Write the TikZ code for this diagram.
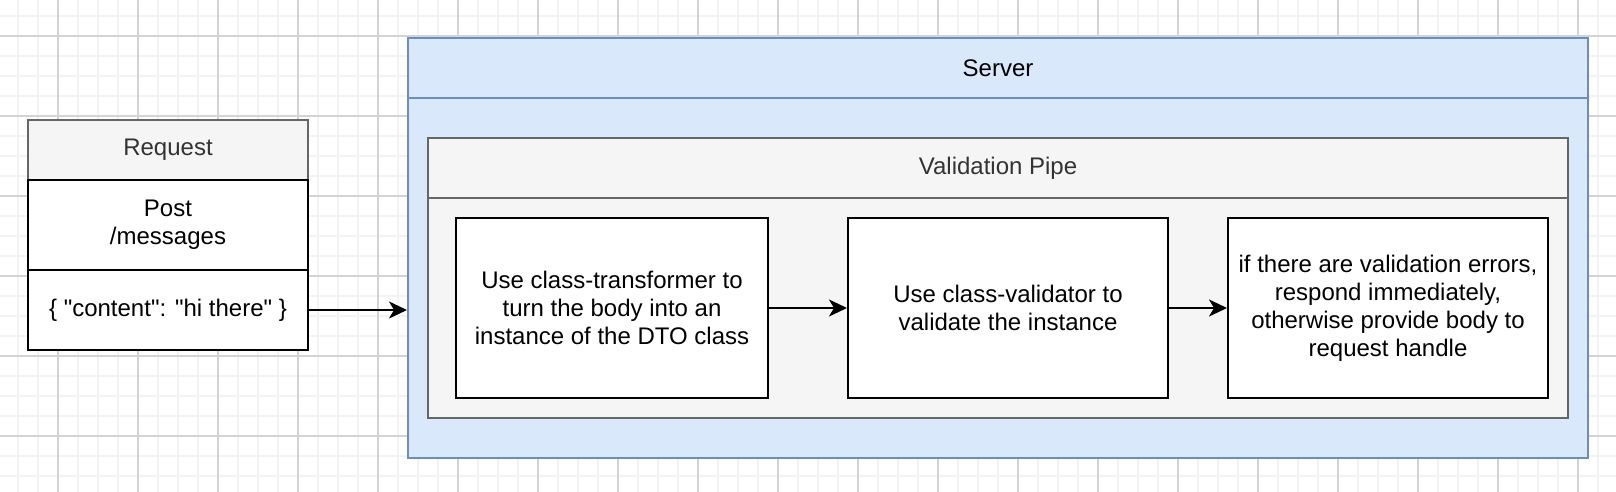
\documentclass[tikz,border=0pt]{standalone}
\usepackage{fontspec}
\setmainfont{Liberation Sans}[Ligatures=TeXOff]
\usetikzlibrary{arrows.meta}
\definecolor{gridminor}{HTML}{F3F3F3}
\definecolor{gridmajor}{HTML}{D3D3D3}
\definecolor{blfill}{HTML}{DAE8FC}
\definecolor{blline}{HTML}{6C8EBF}
\definecolor{gyfill}{HTML}{F5F5F5}
\definecolor{gyline}{HTML}{666666}
\definecolor{gytext}{HTML}{333333}
\tikzset{
  pbox/.style={draw, rectangle, line width=1pt, inner sep=0pt, anchor=north west, align=center, font=\fontsize{12}{14}\selectfont},
  bluebox/.style={pbox, fill=blfill, draw=blline},
  greybox/.style={pbox, fill=gyfill, draw=gyline, text=gytext},
  whitebox/.style={pbox, fill=white, draw=black},
  arr/.style={draw=black, line width=1pt, -{Stealth[length=9pt,width=8.5pt,inset=2.5pt]}}
}
\begin{document}
\begin{tikzpicture}[x=0.5pt,y=-0.5pt]
\useasboundingbox (0,0) rectangle (1616,492);
\fill[white] (0,0) rectangle (1616,492);
% grid
\foreach \gx in {18,38,...,1616} \draw[gridminor, line width=0.8pt] (\gx,0) -- (\gx,492);
\foreach \gy in {16,36,...,492} \draw[gridminor, line width=0.8pt] (0,\gy) -- (1616,\gy);
\foreach \gx in {58,138,...,1616} \draw[gridmajor, line width=0.6pt] (\gx,0) -- (\gx,492);
\foreach \gy in {36,116,...,492} \draw[gridmajor, line width=0.6pt] (0,\gy) -- (1616,\gy);

% Request
\node[greybox, minimum width=140pt, minimum height=30pt] (reqh) at (27,119) {Request};
\node[whitebox, minimum width=140pt, minimum height=45pt] (reqm) at (27,179) {Post\\/messages};
\node[whitebox, minimum width=140pt, minimum height=40pt] (reqb) at (27,269) {\{ "content": "hi there" \}};

% Server
\node[bluebox, minimum width=590pt, minimum height=30pt] (srvh) at (407,37) {Server};
\node[bluebox, minimum width=590pt, minimum height=180pt] (srvb) at (407,97) {};

% Validation pipe
\node[greybox, minimum width=570pt, minimum height=30pt] (pipeh) at (427,137) {Validation Pipe};
\node[greybox, minimum width=570pt, minimum height=110pt] (pipeb) at (427,197) {};

% Steps
\node[whitebox, minimum width=156pt, minimum height=90pt] (s1) at (455,217) {Use class-transformer to\\turn the body into an\\instance of the DTO class};
\node[whitebox, minimum width=160pt, minimum height=90pt] (s2) at (847,217) {Use class-validator to\\validate the instance};
\node[whitebox, minimum width=160pt, minimum height=90pt] (s3) at (1227,217) {if there are validation errors,\\respond immediately,\\otherwise provide body to\\request handle};

% connectors
\draw[arr] (reqb.east) -- (reqb.east -| srvb.west);
\draw[arr] (s1.east) -- (s2.west);
\draw[arr] (s2.east) -- (s3.west);
\end{tikzpicture}
\end{document}
